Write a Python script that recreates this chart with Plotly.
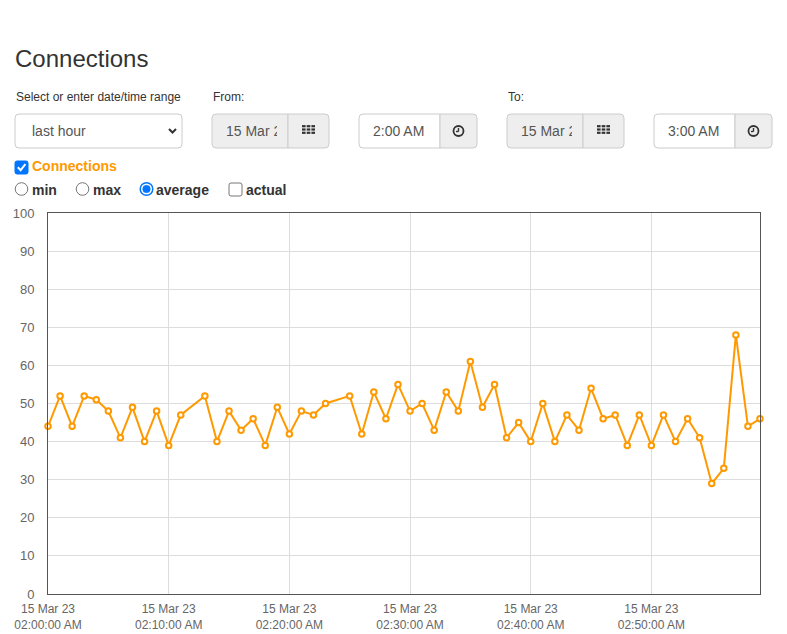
import datetime as dt
import plotly.graph_objects as go

# ---------------- data ----------------
start = dt.datetime(2023, 3, 15, 2, 0, 0)
minutes = [0, 1, 2, 3, 4, 5, 6, 7, 8, 9, 10, 11,
           13, 14, 15, 16, 17, 18, 19, 20, 21, 22, 23,
           25, 26, 27, 28, 29, 30, 31, 32, 33, 34, 35, 36, 37, 38, 39, 40,
           41, 42, 43, 44, 45, 46, 47, 48, 49, 50, 51, 52, 53, 54, 55, 56,
           57, 58, 59]
connections = [44, 52, 44, 52, 51, 48, 41, 49, 40, 48, 39, 47,
               52, 40, 48, 43, 46, 39, 49, 42, 48, 47, 50,
               52, 42, 53, 46, 55, 48, 50, 43, 53, 48, 61, 49, 55, 41, 45, 40,
               50, 40, 47, 43, 54, 46, 47, 39, 47, 39, 47, 40, 46, 41, 29, 33,
               68, 44, 46]
tick_minutes = [0, 10, 20, 30, 40, 50]
tick_labels = ["15 Mar 23<br>02:00:00 AM", "15 Mar 23<br>02:10:00 AM",
               "15 Mar 23<br>02:20:00 AM", "15 Mar 23<br>02:30:00 AM",
               "15 Mar 23<br>02:40:00 AM", "15 Mar 23<br>02:50:00 AM"]
y_ticks = [0, 10, 20, 30, 40, 50, 60, 70, 80, 90, 100]

times = [start + dt.timedelta(minutes=m) for m in minutes]
tick_times = [start + dt.timedelta(minutes=m) for m in tick_minutes]

# the page body adds an 8px margin; the figure fills the rest of the window
OFF = 8
W, H = 787 - OFF, 634 - OFF
ORANGE = "#ff9900"
TEXT = "#333333"
FONT = "Liberation Sans, Arial, sans-serif"
NARROW = "Liberation Sans Narrow, Arial Narrow, sans-serif"


def X(px):
    return (px - OFF) / W


def Y(py):
    return 1 - (py - OFF) / H


fig = go.Figure()
fig.add_trace(go.Scatter(
    x=times, y=connections, mode="lines+markers",
    line=dict(color=ORANGE, width=2),
    marker=dict(symbol="circle", size=5.5, color="white",
                line=dict(color=ORANGE, width=2)),
    hoverinfo="x+y", showlegend=False, cliponaxis=False,
))

shapes = []
annotations = []


def rrect(x0, y0, x1, y1, r=(4, 4, 4, 4), fill="white", line="#cccccc", lw=1):
    # r = (top-left, top-right, bottom-right, bottom-left) radii in px
    tl, tr, br, bl = r
    p = []
    p.append(f"M{X(x0 + tl)},{Y(y0)}")
    p.append(f"L{X(x1 - tr)},{Y(y0)}")
    if tr:
        p.append(f"Q{X(x1)},{Y(y0)} {X(x1)},{Y(y0 + tr)}")
    p.append(f"L{X(x1)},{Y(y1 - br)}")
    if br:
        p.append(f"Q{X(x1)},{Y(y1)} {X(x1 - br)},{Y(y1)}")
    p.append(f"L{X(x0 + bl)},{Y(y1)}")
    if bl:
        p.append(f"Q{X(x0)},{Y(y1)} {X(x0)},{Y(y1 - bl)}")
    p.append(f"L{X(x0)},{Y(y0 + tl)}")
    if tl:
        p.append(f"Q{X(x0)},{Y(y0)} {X(x0 + tl)},{Y(y0)}")
    p.append("Z")
    shapes.append(dict(type="path", xref="paper", yref="paper", path=" ".join(p),
                       fillcolor=fill, line=dict(color=line, width=lw), layer="above"))


def text(x, y, s, size=12, color=TEXT, bold=False, anchor="left", width=None, family=FONT):
    if bold:
        s = f"<b>{s}</b>"
    a = dict(x=X(x), y=Y(y), xref="paper", yref="paper", text=s, showarrow=False,
             xanchor=anchor, yanchor="middle", align="left", borderpad=0,
             font=dict(size=size, color=color, family=family))
    if width:
        a["width"] = width
    annotations.append(a)


def line(x0, y0, x1, y1, color=TEXT, w=1.5):
    shapes.append(dict(type="line", xref="paper", yref="paper",
                       x0=X(x0), y0=Y(y0), x1=X(x1), y1=Y(y1),
                       line=dict(color=color, width=w), layer="above"))


def circle(cx, cy, r, fill="white", color="#767676", w=1):
    shapes.append(dict(type="circle", xref="paper", yref="paper",
                       x0=X(cx - r), y0=Y(cy - r), x1=X(cx + r), y1=Y(cy + r),
                       fillcolor=fill, line=dict(color=color, width=w), layer="above"))


def grid_icon(cx, cy):
    cw, ch, g = 3.6, 2.2, 1.1
    tw = 3 * cw + 2 * g
    th = 3 * ch + 2 * g
    for i in range(3):
        for j in range(3):
            x0 = cx - tw / 2 + i * (cw + g)
            y0 = cy - th / 2 + j * (ch + g)
            shapes.append(dict(type="rect", xref="paper", yref="paper",
                               x0=X(x0), x1=X(x0 + cw), y0=Y(y0), y1=Y(y0 + ch),
                               fillcolor=TEXT, line=dict(width=0), layer="above"))


def clock_icon(cx, cy):
    circle(cx, cy, 5, fill="rgba(0,0,0,0)", color=TEXT, w=1.8)
    line(cx, cy + 0.5, cx, cy - 3, w=1.4)
    line(cx, cy + 0.5, cx - 2.5, cy + 0.5, w=1.4)


# ---------------- header ----------------
text(14, 58, "Connections", size=24)
text(15, 97, "Select or enter date/time range", size=12)
text(212, 97, "From:", size=12)
text(507, 97, "To:", size=12)

# select box
rrect(15, 114, 182, 148)
text(31, 131, "last hour", size=14, color="#555555")
shapes.append(dict(type="path", xref="paper", yref="paper",
                   path=f"M{X(169)},{Y(129)} L{X(172.5)},{Y(132.5)} L{X(176)},{Y(129)}",
                   line=dict(color=TEXT, width=2), layer="above"))

# date/time input groups
for (dx0, dsplit, dx1), (tx0, tsplit, tx1), tlabel in [
        ((212, 288, 329), (359, 440, 477), "2:00 AM"),
        ((507, 583, 624), (654, 735, 772), "3:00 AM")]:
    rrect(dx0, 114, dsplit, 148, r=(4, 0, 0, 4), fill="#eeeeee")
    rrect(dsplit, 114, dx1, 148, r=(0, 4, 4, 0), fill="#eeeeee")
    text(dx0 + 12.5, 131, "15 Mar 2023", size=14, color="#555555", width=51)
    grid_icon((dsplit + dx1) / 2, 129.5)
    rrect(tx0, 114, tsplit, 148, r=(4, 0, 0, 4), fill="white")
    rrect(tsplit, 114, tx1, 148, r=(0, 4, 4, 0), fill="#eeeeee")
    text(tx0 + 13, 131, tlabel, size=14, color="#555555")
    clock_icon((tsplit + tx1) / 2, 131)

# series checkbox
rrect(15, 161, 28, 174, r=(2, 2, 2, 2), fill="#0075ff", line="#0075ff")
shapes.append(dict(type="path", xref="paper", yref="paper",
                   path=f"M{X(17.8)},{Y(167.3)} L{X(20.6)},{Y(170.2)} L{X(25.4)},{Y(164.2)}",
                   line=dict(color="white", width=2), layer="above"))
text(31, 166, "Connections", size=14, color=ORANGE, bold=True)

# radios
circle(21.5, 189, 6.3)
text(31, 190, "min", size=14, bold=True)
circle(82.5, 189, 6.3)
text(92, 190, "max", size=14, bold=True)
circle(146.5, 189, 6.3, fill="white", color="#0075ff", w=1.5)
circle(146.5, 189, 3.8, fill="#0075ff", color="#0075ff", w=0.5)
text(155, 190, "average", size=14, bold=True)
rrect(229, 183, 242, 196, r=(2, 2, 2, 2), fill="white", line="#767676")
text(245, 190, "actual", size=14, bold=True)

# ---------------- layout ----------------
fig.update_layout(
    width=W, height=H, autosize=False,
    margin=dict(l=0, r=0, t=0, b=0, pad=0, autoexpand=False),
    paper_bgcolor="white", plot_bgcolor="white",
    font=dict(family=FONT, color=TEXT),
    showlegend=False,
    shapes=shapes, annotations=annotations,
    xaxis=dict(
        domain=[X(48), X(760)],
        range=[start, start + dt.timedelta(minutes=59)],
        tickmode="array", tickvals=tick_times, ticktext=tick_labels,
        showgrid=True, gridcolor="#dddddd", gridwidth=1,
        showline=True, linecolor="#555555", linewidth=1, mirror=True,
        ticks="", zeroline=False, fixedrange=True, automargin=False,
        ticklabelstandoff=4,
        tickfont=dict(family=NARROW, size=12, color="#666666"),
    ),
    yaxis=dict(
        domain=[Y(594), Y(213)],
        range=[0, 100],
        tickmode="array", tickvals=y_ticks,
        showgrid=True, gridcolor="#dddddd", gridwidth=1,
        showline=True, linecolor="#555555", linewidth=1, mirror=True,
        ticks="", zeroline=False, fixedrange=True, automargin=False,
        ticklabelstandoff=10,
        tickfont=dict(family=NARROW, size=13, color="#666666"),
    ),
)

fig.write_html("out.html")
